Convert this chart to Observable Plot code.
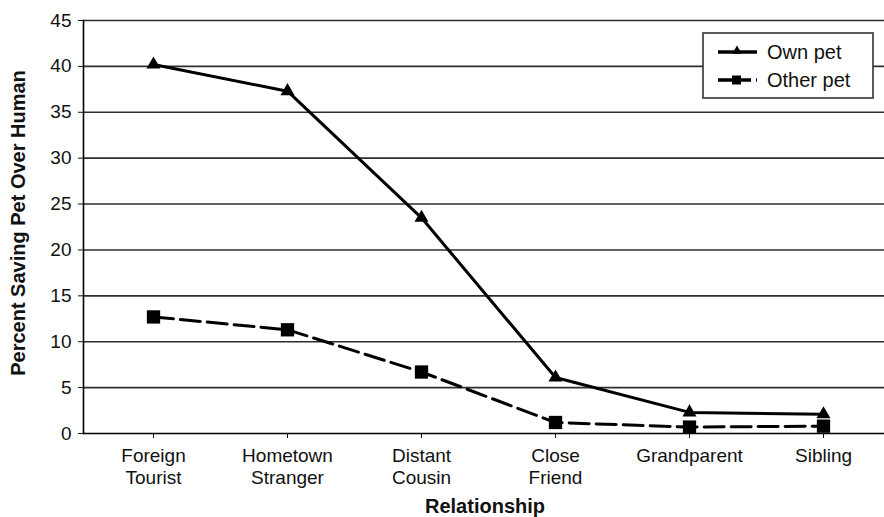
<!DOCTYPE html>
<html><head><meta charset="utf-8">
<script src="https://cdn.jsdelivr.net/npm/d3@7"></script>
<script src="https://cdn.jsdelivr.net/npm/@observablehq/plot@0.6"></script>
<style>
body{margin:0;background:#fff}
svg{font-family:"Liberation Sans",Arial,Helvetica,sans-serif}
</style>
</head><body><div id="chart"></div>
<script>
const relationships = ["Foreign Tourist","Hometown Stranger","Distant Cousin","Close Friend","Grandparent","Sibling"];
const tickLabels = ["Foreign\nTourist","Hometown\nStranger","Distant\nCousin","Close\nFriend","Grandparent","Sibling"];
const ownPet = [40.2, 37.3, 23.5, 6.1, 2.3, 2.1];
const otherPet = [12.7, 11.3, 6.7, 1.2, 0.7, 0.8];
const yTicks = [0, 5, 10, 15, 20, 25, 30, 35, 40, 45];
const seriesNames = ["Own pet", "Other pet"];
const xTitle = "Relationship";
const yTitle = "Percent Saving Pet Over Human";

const own = relationships.map((r, i) => ({rel: r, value: ownPet[i]}));
const other = relationships.map((r, i) => ({rel: r, value: otherPet[i]}));

const W = 884, H = 517;
const chart = Plot.plot({
  width: W, height: H,
  marginLeft: 83, marginRight: 0, marginTop: 20, marginBottom: 84,
  style: {fontSize: "19px", color: "#111", background: "#fff"},
  x: {type: "point", domain: relationships, range: [151, 824], padding: 0},
  y: {domain: [0, 45]},
  marks: [
    Plot.ruleY(yTicks.filter(d => d > 0), {stroke: "#2e2e2e", strokeWidth: 1.6}),
    Plot.ruleY([0], {stroke: "#000", strokeWidth: 1.6}),
    Plot.frame({anchor: "left", stroke: "#000", strokeWidth: 1.6}),
    Plot.line(own, {x: "rel", y: "value", stroke: "#000", strokeWidth: 3}),
    Plot.line(other, {x: "rel", y: "value", stroke: "#000", strokeWidth: 3, strokeDasharray: "20,7"}),
    Plot.dot(own, {x: "rel", y: "value", symbol: "triangle", r: 5.2, fill: "#000", stroke: "none"}),
    Plot.dot(other, {x: "rel", y: "value", symbol: "square", r: 7.5, fill: "#000", stroke: "none"}),
    Plot.axisX({tickSize: 5, tickPadding: 7, label: null, lineHeight: 1.2,
      tickFormat: d => tickLabels[relationships.indexOf(d)]}),
    Plot.axisY({ticks: yTicks, tickSize: 5, tickPadding: 7, label: null})
  ]
});
document.getElementById("chart").appendChild(chart);

const svg = d3.select(chart);
// axis titles
svg.append("text").attr("x", 485).attr("y", 513).attr("text-anchor", "middle")
  .attr("font-weight", "bold").attr("font-size", 20).attr("fill", "#111").text(xTitle);
svg.append("text").attr("transform", "translate(25,223) rotate(-90)").attr("text-anchor", "middle")
  .attr("font-weight", "bold").attr("font-size", 20).attr("fill", "#111").text(yTitle);

// legend
const lg = svg.append("g").attr("text-anchor", "start");
lg.append("rect").attr("x", 703).attr("y", 33).attr("width", 170).attr("height", 65)
  .attr("fill", "#fff").attr("stroke", "#333").attr("stroke-width", 1.6);
const rows = [52, 80];
rows.forEach((yy, i) => {
  lg.append("line").attr("x1", 718).attr("x2", 757).attr("y1", yy).attr("y2", yy)
    .attr("stroke", "#000").attr("stroke-width", 3.5)
    .attr("stroke-dasharray", i === 1 ? "14,5" : null);
  if (i === 0) {
    lg.append("path").attr("d", d3.symbol(d3.symbolTriangle, 40)()).attr("transform", `translate(737,${yy - 1})`).attr("fill", "#000");
  } else {
    lg.append("rect").attr("x", 732).attr("y", yy - 4.5).attr("width", 9).attr("height", 9).attr("fill", "#000");
  }
  lg.append("text").attr("x", 767).attr("y", yy + 7).attr("text-anchor", "start")
    .attr("font-size", 20).attr("fill", "#111").text(seriesNames[i]);
});
</script>
</body></html>
